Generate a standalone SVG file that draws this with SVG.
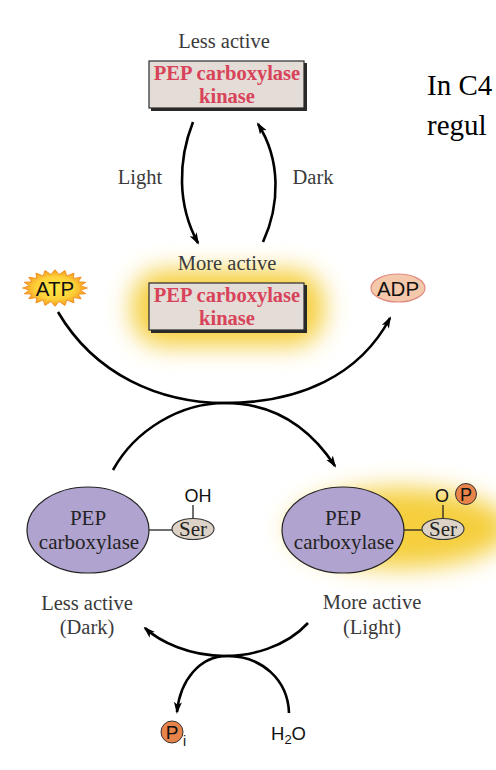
<svg xmlns="http://www.w3.org/2000/svg" width="496" height="770" viewBox="0 0 496 770">
<defs>
<style>
.lbl{font-family:"Liberation Serif",serif;font-size:20.5px;fill:#3a3a3a}
.red{font-family:"Liberation Serif",serif;font-size:20.5px;font-weight:bold;fill:#d8435a}
.enz{font-family:"Liberation Serif",serif;font-size:21px;fill:#222}
.sans{font-family:"Liberation Sans",Arial,sans-serif;fill:#111}
.con{fill:none;stroke:#000;stroke-width:2.6}
.box{fill:#e4dcd6;stroke:#2a2a2a;stroke-width:1.2}
.shadow{fill:#2a2a2a}
.pep{fill:#b1a3cf;stroke:#222;stroke-width:1.2}
.ser{fill:#ddd2c6;stroke:#333;stroke-width:1.1}
.thin{stroke:#222;stroke-width:1.3}
.pcirc{fill:#e8834a;stroke:#333;stroke-width:1}
.big{font-family:"Liberation Serif",serif;font-size:29px;fill:#000}
</style>
<marker id="ah" markerWidth="12" markerHeight="10" refX="10" refY="4" orient="auto" markerUnits="userSpaceOnUse" viewBox="0 0 12 8">
<path d="M0,0 L12,4 L0,8 L3,4 z" fill="#000"/>
</marker>
<radialGradient id="star" cx="50%" cy="50%" r="50%">
<stop offset="0" stop-color="#ffe640"/>
<stop offset="0.6" stop-color="#ffd23a"/>
<stop offset="1" stop-color="#f39a1e"/>
</radialGradient>
<filter id="blur" x="-50%" y="-50%" width="200%" height="200%">
<feGaussianBlur stdDeviation="12"/>
</filter>
</defs>
<rect width="496" height="770" fill="#fff"/>

<g id="side-text">
<text class="big" x="427" y="95">In C4</text>
<text class="big" x="427" y="135">regul</text>
</g>

<g id="kinase-less-active">
<text class="lbl" x="224" y="48" text-anchor="middle">Less active</text>
<rect class="shadow" x="151" y="63" width="156" height="48"/>
<rect class="box" x="149" y="61" width="155" height="47"/>
<text class="red" x="227" y="80" text-anchor="middle">PEP carboxylase</text>
<text class="red" x="227" y="103" text-anchor="middle">kinase</text>
</g>

<g id="kinase-more-active">
<rect x="132" y="270" width="192" height="76" rx="32" fill="#f5cf3c" filter="url(#blur)"/>
<text class="lbl" x="227" y="270" text-anchor="middle">More active</text>
<rect class="shadow" x="151" y="285" width="156" height="48"/>
<rect class="box" x="149" y="283" width="155" height="47"/>
<text class="red" x="227" y="302" text-anchor="middle">PEP carboxylase</text>
<text class="red" x="227" y="325" text-anchor="middle">kinase</text>
</g>

<g id="atp">
<polygon fill="url(#star)" stroke="#f08a1e" stroke-width="0.8" transform="translate(55,288) scale(1.08) translate(-55,-288)" points="85,288 78.7,290 83.5,293.3 76.4,293.7 79.3,298 72,296.8 72.6,301.8 65.9,299.1 64.3,304.2 58.7,300.4 55,305 51.3,300.4 45.7,304.2 44.1,299.1 37.4,301.8 38,296.8 30.7,298 33.6,293.7 26.5,293.3 31.3,290 25,288 31.3,286 26.5,282.7 33.6,282.3 30.7,278 38,279.2 37.4,274.2 44.1,276.9 45.7,271.8 51.3,275.6 55,271 58.7,275.6 64.3,271.8 65.9,276.9 72.6,274.2 72,279.2 79.3,278 76.4,282.3 83.5,282.7 78.7,286"/>
<text class="sans" x="55" y="296" font-size="20.5" text-anchor="middle">ATP</text>
</g>

<g id="adp">
<ellipse cx="398" cy="288" rx="27" ry="14" fill="#f4c8aa" stroke="#e08a82" stroke-width="1.2"/>
<text class="sans" x="398" y="296" font-size="20.5" text-anchor="middle">ADP</text>
</g>

<g id="pepc-less-active">
<line class="thin" x1="148" y1="530" x2="173" y2="530"/>
<line class="thin" x1="193" y1="505" x2="193" y2="519"/>
<ellipse class="pep" cx="88" cy="530" rx="61" ry="43"/>
<text class="enz" x="88" y="525" text-anchor="middle">PEP</text>
<text class="enz" x="89" y="549" text-anchor="middle">carboxylase</text>
<ellipse class="ser" cx="193" cy="529" rx="21" ry="10.5"/>
<text class="enz" x="193" y="536" font-size="19" text-anchor="middle">Ser</text>
<text class="sans" x="198" y="502" font-size="18" text-anchor="middle">OH</text>
<text class="lbl" x="87" y="610" text-anchor="middle">Less active</text>
<text class="lbl" x="87" y="634" text-anchor="middle">(Dark)</text>
</g>

<g id="pepc-more-active">
<ellipse cx="400" cy="528" rx="110" ry="40" fill="#f5cf3c" filter="url(#blur)"/>
<line class="thin" x1="403" y1="530" x2="423" y2="530"/>
<line class="thin" x1="443" y1="505" x2="443" y2="519"/>
<ellipse class="pep" cx="343" cy="530" rx="61" ry="43"/>
<text class="enz" x="343" y="525" text-anchor="middle">PEP</text>
<text class="enz" x="344" y="549" text-anchor="middle">carboxylase</text>
<ellipse class="ser" cx="443" cy="529" rx="21" ry="10.5"/>
<text class="enz" x="443" y="536" font-size="19" text-anchor="middle">Ser</text>
<text class="sans" x="442" y="502" font-size="18" text-anchor="middle">O</text>
<circle class="pcirc" cx="466" cy="494" r="10.5"/>
<text class="sans" x="466" y="501" font-size="18" text-anchor="middle">P</text>
<text class="lbl" x="372" y="609" text-anchor="middle">More active</text>
<text class="lbl" x="372" y="634" text-anchor="middle">(Light)</text>
</g>

<g id="pi">
<circle class="pcirc" cx="172" cy="732" r="11"/>
<text class="sans" x="172" y="739" font-size="19" text-anchor="middle">P</text>
<text class="sans" x="183" y="746" font-size="14">i</text>
</g>

<g id="h2o">
<text class="sans" x="271" y="740" font-size="18.5">H<tspan font-size="13" dy="4">2</tspan><tspan dy="-4">O</tspan></text>
</g>

<g id="connectors">
<text class="lbl" x="140" y="184" text-anchor="middle">Light</text>
<text class="lbl" x="313" y="184" text-anchor="middle">Dark</text>
<path class="con" d="M193,122 C178,160 177,205 198,243" marker-end="url(#ah)"/>
<path class="con" d="M263,242 C280,205 281,160 258,124" marker-end="url(#ah)"/>
<path class="con" d="M58,312 C95,375 160,403 225,403 C300,403 360,375 390,318" marker-end="url(#ah)"/>
<path class="con" d="M113,470 C135,430 180,403 225,403 C275,403 310,428 335,466" marker-end="url(#ah)"/>
<path class="con" d="M308,623 C285,648 250,656 225,656 C190,656 160,642 145,628" marker-end="url(#ah)"/>
<path class="con" d="M289,713 C288,680 262,656 227,656 C200,656 180,680 177,712" marker-end="url(#ah)"/>
</g>
</svg>
